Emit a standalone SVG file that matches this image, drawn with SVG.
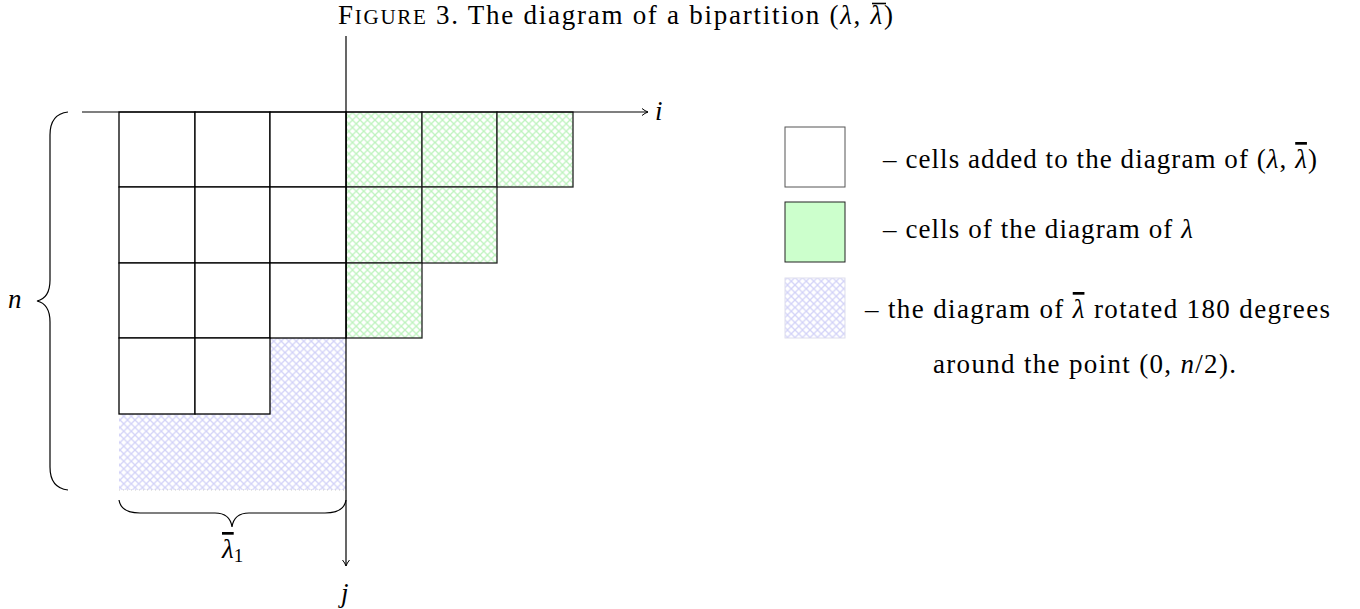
<svg xmlns="http://www.w3.org/2000/svg" width="1360" height="609" viewBox="0 0 1360 609">
<style>
text{font-family:"Liberation Serif","DejaVu Serif",serif;font-size:27px;fill:#000}
.it{font-style:italic}
.ov{text-decoration:overline}
.cell{fill:#fff;stroke:#000;stroke-width:1.3}
.g{fill:url(#hg);stroke:#222;stroke-width:1.3}
.b{fill:url(#hb);stroke:none}
.ax{stroke:#000;stroke-width:1.2;fill:none}
.br{stroke:#000;stroke-width:1.2;fill:none}
</style>
<defs>
<pattern id="hg" width="7.5" height="7.5" patternUnits="userSpaceOnUse">
<rect width="7.5" height="7.5" fill="#fff"/>
<path d="M0,0L7.5,7.5M7.5,0L0,7.5" stroke="#bdf3bd" stroke-width="1.3"/>
</pattern>
<pattern id="hb" width="7.5" height="7.5" patternUnits="userSpaceOnUse">
<rect width="7.5" height="7.5" fill="#fff"/>
<path d="M0,0L7.5,7.5M7.5,0L0,7.5" stroke="#d2d2f8" stroke-width="1.3"/>
</pattern>
<marker id="arr" markerWidth="10" markerHeight="10" refX="7" refY="5" orient="auto" markerUnits="userSpaceOnUse">
<path d="M1,1.5Q4,4 7,5Q4,6 1,8.5" fill="none" stroke="#000" stroke-width="1"/>
</marker>
</defs>
<rect width="1360" height="609" fill="#fff"/>
<g id="title">
<text x="338" y="24" textLength="555">F<tspan font-size="21">IGURE</tspan> 3.  The diagram of a bipartition (<tspan class="it">λ</tspan>, <tspan class="it">λ</tspan>)</text>
<line x1="872" y1="3.5" x2="886" y2="3.5" stroke="#000" stroke-width="1.6"/>
</g>
<g id="blue">
<rect class="b" x="270" y="338" width="76" height="76"/>
<rect class="b" x="119" y="414" width="227" height="76"/>
<line x1="119" y1="490" x2="346" y2="490" stroke="#ccc" stroke-width="1" stroke-dasharray="1,3"/>
</g>
<g id="green">
<rect class="g" x="346" y="112" width="76" height="75"/>
<rect class="g" x="422" y="112" width="75" height="75"/>
<rect class="g" x="497" y="112" width="76" height="75"/>
<rect class="g" x="346" y="187" width="76" height="76"/>
<rect class="g" x="422" y="187" width="75" height="76"/>
<rect class="g" x="346" y="263" width="76" height="75"/>
</g>
<g id="cells">
<rect class="cell" x="119" y="112" width="76" height="75"/>
<rect class="cell" x="195" y="112" width="75" height="75"/>
<rect class="cell" x="270" y="112" width="76" height="75"/>
<rect class="cell" x="119" y="187" width="76" height="76"/>
<rect class="cell" x="195" y="187" width="75" height="76"/>
<rect class="cell" x="270" y="187" width="76" height="76"/>
<rect class="cell" x="119" y="263" width="76" height="75"/>
<rect class="cell" x="195" y="263" width="75" height="75"/>
<rect class="cell" x="270" y="263" width="76" height="75"/>
<rect class="cell" x="119" y="338" width="76" height="76"/>
<rect class="cell" x="195" y="338" width="75" height="76"/>
</g>
<g id="connectors">
<line class="ax" x1="82" y1="112" x2="648" y2="112" marker-end="url(#arr)"/>
<line class="ax" x1="346" y1="36" x2="346" y2="566" marker-end="url(#arr)"/>
<path class="br" d="M68,112Q50,114 50,135L50,280Q50,298 37,301Q50,304 50,322L50,467Q50,488 68,490"/>
<path class="br" d="M119,500Q121,513 140,513L215,513Q230,513 232,527Q234,513 249,513L325,513Q344,513 346,500"/>
</g>
<g id="labels">
<text class="it" x="655" y="120">i</text>
<text class="it" x="341" y="602">j</text>
<text class="it" x="8" y="308">n</text>
<text x="222" y="558"><tspan class="it ov">λ</tspan><tspan font-size="19" dy="4">1</tspan></text>
</g>
<g id="legend">
<rect x="785" y="127" width="60" height="60" fill="#fff" stroke="#555" stroke-width="1"/>
<rect x="785" y="202" width="60" height="60" fill="#ccffcc" stroke="#222" stroke-width="1"/>
<rect x="785" y="278" width="60" height="60" fill="url(#hb)" stroke="#dde" stroke-width="1"/>
<text x="883" y="168" textLength="434">– cells added to the diagram of (<tspan class="it">λ</tspan>, <tspan class="it ov">λ</tspan>)</text>
<text x="883" y="238" textLength="310">– cells of the diagram of <tspan class="it">λ</tspan></text>
<text x="865" y="318" textLength="465">– the diagram of <tspan class="it ov">λ</tspan> rotated 180 degrees</text>
<text x="933" y="373" textLength="303">around the point (0, <tspan class="it">n</tspan>/2).</text>
</g>
</svg>
